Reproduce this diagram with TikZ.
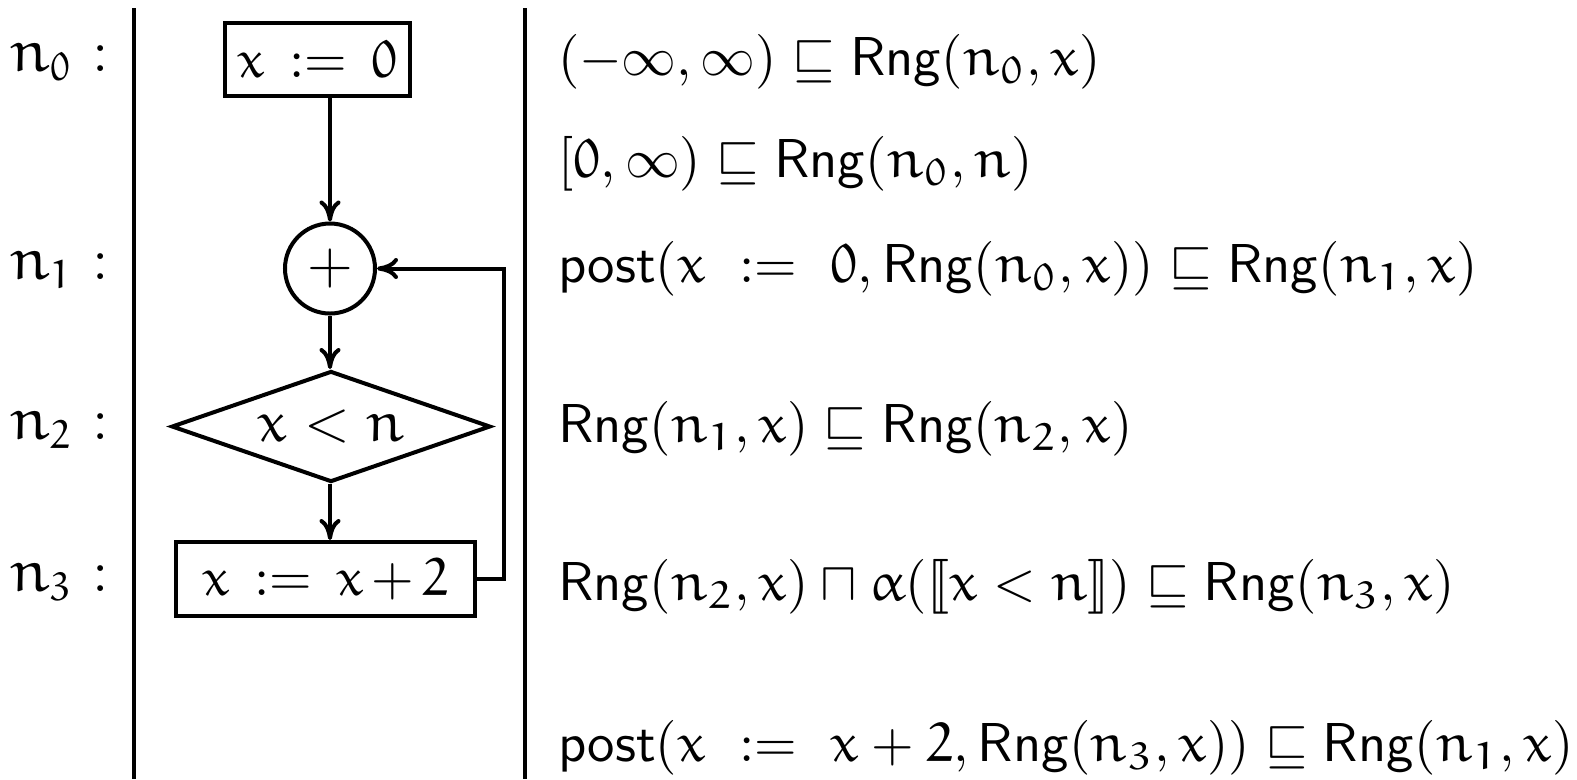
\documentclass[tikz,border=0pt]{standalone}
\usepackage{amssymb}
\usepackage{stmaryrd}
\usetikzlibrary{shapes.geometric,arrows.meta}
\DeclareSymbolFont{eulerletters}{U}{eur}{m}{n}
\DeclareMathSymbol{x}{\mathalpha}{eulerletters}{`x}
\DeclareMathSymbol{n}{\mathalpha}{eulerletters}{`n}
\DeclareMathSymbol{0}{\mathalpha}{eulerletters}{`0}
\DeclareMathSymbol{1}{\mathalpha}{eulerletters}{`1}
\DeclareMathSymbol{2}{\mathalpha}{eulerletters}{`2}
\DeclareMathSymbol{3}{\mathalpha}{eulerletters}{`3}
\DeclareMathSymbol{\alpha}{\mathord}{eulerletters}{"0B}
\newcommand{\Rng}{\mathsf{Rng}}
\newcommand{\postf}{\mathsf{post}}
\newcommand{\asg}{\mathrel{\hspace{1.8pt}:=\hspace{1.8pt}}}
\begin{document}
\begin{tikzpicture}[x=0.2pt,y=-0.2pt,line width=0.8pt,
  every node/.style={font=\fontsize{11.5}{13}\selectfont},
  stmt/.style={draw,rectangle,inner sep=0pt,font=\fontsize{10.6}{12}\selectfont},
  lbl/.style={anchor=east,inner sep=0pt,font=\fontsize{12}{14}\selectfont},
  cons/.style={anchor=west,inner sep=0pt,font=\fontsize{11}{13}\selectfont},
  flow/.style={-{To[length=4.2pt,width=4.2pt]}}]
\useasboundingbox (0,0) rectangle (1577,779);
\coordinate (v1t) at (134,8); \coordinate (v1b) at (134,779);
\coordinate (v2t) at (525,8); \coordinate (v2b) at (525,779);
\draw (v1t) -- (v1b);
\draw (v2t) -- (v2b);
% left labels
\node[lbl] (l0) at (111,62) {$n_0$\hspace{4pt}:};
\node[lbl] (l1) at (111,270) {$n_1$\hspace{4pt}:};
\node[lbl] (l2) at (111,430) {$n_2$\hspace{4pt}:};
\node[lbl] (l3) at (111,582) {$n_3$\hspace{4pt}:};
% flow graph
\node[stmt,minimum width=37pt,minimum height=14.6pt] (n0) at (317.5,59.5) {$x\asg 0$};
\node[draw,circle,minimum size=18pt,inner sep=0pt] (n1) at (330,268.5) {$+$};
\node[draw,diamond,aspect=2.87,minimum width=63.8pt,minimum height=22.2pt,inner sep=0pt] (n2) at (331,426.5) {$x<n$};
\node[stmt,minimum width=59.8pt,minimum height=14.8pt] (n3) at (325.5,579) {$x\asg x\mkern-1.5mu+\mkern-1.5mu2$};
\draw[flow] (n0.south -| n1.north) -- (n1.north);
\draw[flow] (n1.south) -- (n1.south |- n2.north);
\draw[flow] (n2.south -| n1.south) -- (n3.north -| n1.south);
\coordinate (loop) at (504,579);
\draw[flow] (n3.east) -- (loop) |- (n1.east);
% constraints
\node[cons] (c1) at (556,62) {$(-\infty,\infty)\sqsubseteq\Rng(n_0,x)$};
\node[cons] (c2) at (556,164) {$[0,\infty)\sqsubseteq\Rng(n_0,n)$};
\node[cons] (c3) at (556,269) {$\postf(x\ :=\ 0,\Rng(n_0,x))\sqsubseteq\Rng(n_1,x)$};
\node[cons] (c4) at (556,429) {$\Rng(n_1,x)\sqsubseteq\Rng(n_2,x)$};
\node[cons] (c5) at (556,587) {$\Rng(n_2,x)\sqcap\alpha(\llbracket x<n\rrbracket)\sqsubseteq\Rng(n_3,x)$};
\node[cons] (c6) at (556,748) {$\postf(x\ :=\ x+2,\Rng(n_3,x))\sqsubseteq\Rng(n_1,x)$};
\end{tikzpicture}
\end{document}
